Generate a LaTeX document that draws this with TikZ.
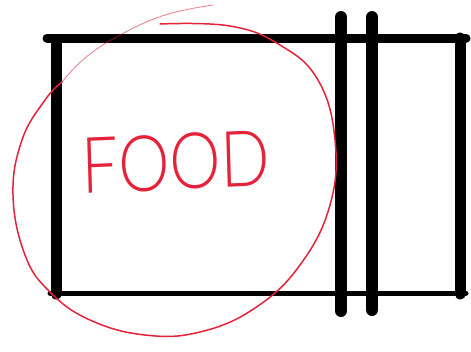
\documentclass[tikz,border=0pt]{standalone}
\usepackage{fontspec}
\usepackage{tikz}
\newfontfamily\sketchfont{Lato}[UprightFont=* Light]
\definecolor{penred}{RGB}{228,34,58}
\usetikzlibrary{
  calc,
  positioning
}
\begin{document}
\begin{tikzpicture}[x=1pt,y=-1pt]
  \tikzset{
    marker/.style={line width=#1,line cap=round,color=black},
    redpen/.style={color=penred,line width=1.5pt,line cap=round},
  }
  \useasboundingbox (0,0) rectangle (471,351);
  \coordinate (tl) at (47,38);
  \coordinate (tr) at (466,38);
  \coordinate (bl) at (50,293);
  \coordinate (br) at (466,293);

  % box
  \draw[marker=9pt] (tl) -- (tr);
  \draw[marker=5pt] (bl) -- (br);
  \draw[marker=11pt] (56,40) -- (56,294);
  \draw[marker=11pt] (460,38) -- (460,294);

  % double bar
  \draw[marker=12pt] (341,17) -- (341,311);
  \draw[marker=12pt] (372,17) -- (372,310);

  % circle round the label
  \draw[redpen] plot[smooth,tension=0.7] coordinates {
    (160,24) (230,26) (280,45) (318,80) (335,140) (330,205) (300,265)
    (255,308) (200,332) (145,335) (90,320) (50,292) (25,255) (13,195)
    (22,140) (45,100) (62,82)};
  \draw[redpen,line width=0.8pt,opacity=0.6] plot[smooth,tension=0.7]
    coordinates {(62,82) (85,58) (120,35) (165,15) (213,5)};

  \node[text=penred,font=\sketchfont\fontsize{78}{78}\selectfont,
    xscale=0.83,rotate=2,inner sep=0pt] (food) at (176,162) {FOOD};
\end{tikzpicture}
\end{document}
